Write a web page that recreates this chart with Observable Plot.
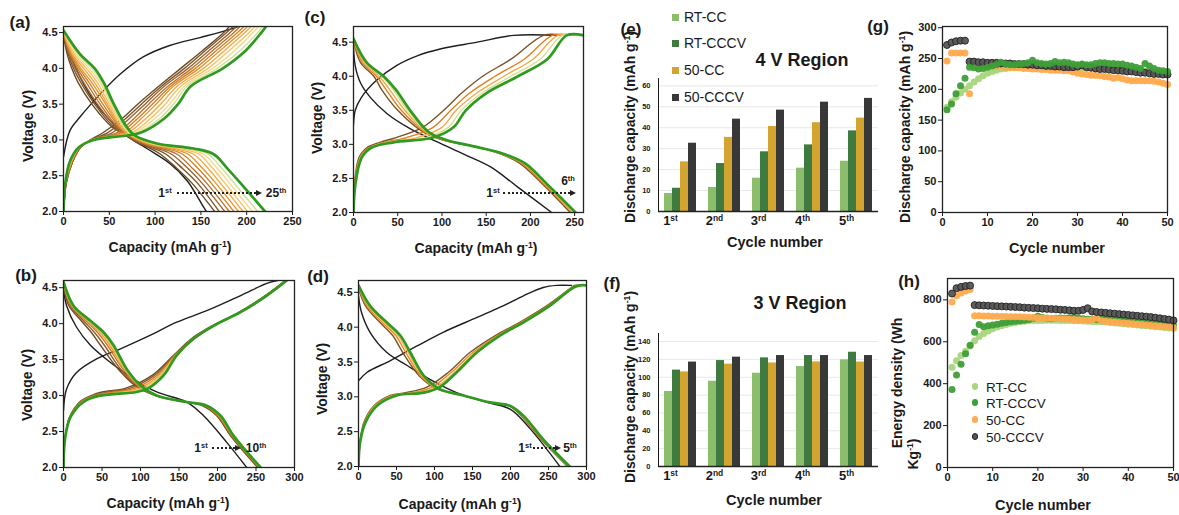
<!DOCTYPE html>
<html><head><meta charset="utf-8">
<script src="https://cdn.jsdelivr.net/npm/d3@7"></script>
<script src="https://cdn.jsdelivr.net/npm/@observablehq/plot@0.6"></script>
<style>
body{margin:0;background:#fff;}
#fig{position:relative;width:1179px;height:515px;overflow:hidden;font-family:"Liberation Sans",Arial,Helvetica,sans-serif;color:#1a1a1a;background:#fff;}
.panel{position:absolute;}
.panel svg{overflow:visible;display:block;}
.lbl{position:absolute;white-space:nowrap;line-height:1;}
.lbl sup{font-size:62%;vertical-align:baseline;position:relative;top:-0.55em;}
#pe [aria-label^="y-axis"] text,#pf [aria-label^="y-axis"] text{font-size:7.5px;}
#pe [aria-label^="fx-axis"] text,#pf [aria-label^="fx-axis"] text{font-size:13px;}
</style></head>
<body><div id="fig"></div>
<script>
const FONT = '"Liberation Sans", Arial, Helvetica, sans-serif';
const BLACK = "#1e1e1e";

// ================= (a) 25 cycles =================
const aColors = ["#6b4a22","#80572a","#9a6430","#b87430","#d2832a","#e6952e","#f2aa48","#f7c263","#f7d88a","#cfe09a","#2f9a1f"];
const aBlackDis = [[0,4.48],[7,4.2],[18,3.88],[33,3.55],[51,3.27],[69,3.06],[91,2.88],[116,2.67],[135,2.43],[153,2.06],[156,2.0]];
const aBlackChg = [[0,2.76],[7,3.13],[18,3.32],[40,3.64],[62,3.92],[87,4.16],[116,4.32],[149,4.43],[178,4.53],[195,4.6]];
const aDisStart = [4.46,4.47,4.48,4.48,4.49,4.5,4.5,4.51,4.52,4.52,4.53];
const aDisV = [4.2,4.0,3.8,3.5,3.18,3.06,2.95,2.88,2.8,2.6,2.4,2.0];
const aDisCap = [
[4,9,16,31,53,68,82,95,106,124,140,165],
[5,11,19,34,55,69,84,99,112,130,146,170],
[6,13,22,37,57,70,86,103,118,136,151,176],
[7,15,25,40,59,71,88,107,124,141,156,181],
[8,17,28,43,61,72,90,112,130,147,161,186],
[9,19,31,46,62,73,92,117,136,152,166,191],
[10,22,34,48,63,74,94,122,142,158,171,196],
[12,25,37,50,65,75,96,127,148,163,176,201],
[14,28,40,52,66,76,98,132,153,168,181,206],
[16,31,42,53,67,77,100,137,158,173,186,212],
[18,34,44,55,69,78,102,142,164,179,193,220]];
const aChgV = [2.0,2.4,2.7,2.9,3.0,3.1,3.3,3.5,3.75,4.0,4.25,4.5,4.6];
const aChgCap = [
[0,3,10,19,29,43,64,81,104,128,152,175,182],
[0,3,10,19,30,48,68,85,107,132,155,178,186],
[0,3,10,19,30,53,72,89,110,136,159,182,190],
[0,3,9,18,31,58,77,93,114,140,163,186,194],
[0,2,9,18,31,62,81,97,117,144,167,190,198],
[0,2,9,18,31,66,85,101,120,148,171,194,202],
[0,2,8,18,32,70,90,106,124,153,176,198,206],
[0,2,8,17,32,74,95,111,128,158,181,203,210],
[0,2,8,17,32,77,100,116,132,163,187,207,214],
[0,2,7,17,33,80,105,120,135,168,193,212,218],
[0,2,7,17,33,84,110,125,139,174,199,216,222]];

// ================= (b) 10 cycles =================
const bColors = ["#6e4d24","#8f5e2a","#d07a22","#ee9a36","#f6c260","#bcd47e","#2f9a1f"];
const bBlackDis = [[0,4.49],[4,4.25],[17,3.95],[35,3.7],[61,3.46],[91,3.23],[121,3.05],[160,2.91],[182,2.72],[212,2.35],[238,2.0]];
const bBlackChg = [[0,2.79],[4,3.09],[17,3.32],[43,3.51],[74,3.65],[113,3.84],[147,4.02],[186,4.18],[230,4.39],[264,4.56],[278,4.6]];
const bDisStart = [4.5,4.52,4.54,4.55,4.56,4.57,4.58];
const bDisV = [4.25,4.04,3.88,3.7,3.37,3.14,3.0,2.91,2.86,2.72,2.44,2.0];
const bDisCap = [
[7,23,36,48,71,93,119,158,180,199,217,252],
[9,26,40,53,74,95,120,159,182,200,218,253],
[10,29,44,57,77,97,120,159,183,201,219,254],
[11,31,47,60,79,98,121,160,184,202,220,255],
[12,33,49,62,80,99,121,160,185,203,220,255],
[12,34,51,64,81,100,121,160,186,204,221,256],
[13,35,52,65,82,100,121,160,186,204,221,256]];
const bChgV = [2.0,2.4,2.7,2.92,3.0,3.05,3.1,3.28,3.56,3.79,3.97,4.16,4.39,4.6];
const bChgCap = [
[0,2,8,22,36,50,80,115,143,166,193,228,262,288],
[0,2,8,23,38,58,86,118,144,167,194,229,263,288],
[0,2,8,24,40,66,92,121,145,168,194,229,263,289],
[0,2,9,25,43,74,98,124,146,168,195,230,264,289],
[0,2,9,26,45,82,103,126,146,169,195,230,264,290],
[0,2,9,26,47,89,107,128,147,169,195,230,264,290],
[0,2,9,27,48,95,110,130,147,169,195,230,264,290]];

// ================= (c) 6 cycles =================
const cColors = ["#7a5426","#e27f1e","#f4a94c","#d6e08c","#2f9a1f"];
const cBlackDis = [[0,4.42],[2,4.15],[8,3.9],[19,3.69],[38,3.45],[64,3.23],[94,3.04],[124,2.86],[155,2.67],[185,2.38],[224,2.0]];
const cBlackChg = [[0,3.28],[2,3.5],[9,3.69],[26,3.94],[49,4.16],[72,4.3],[98,4.4],[140,4.5],[181,4.6],[230,4.6]];
const cDisStart = [4.52,4.53,4.54,4.55,4.55];
const cDisV = [4.2,4.0,3.8,3.5,3.18,3.06,2.96,2.86,2.72,2.4,2.0];
const cDisCap = [
[8,23,32,50,79,102,140,166,188,215,245],
[10,26,37,54,81,103,140,167,190,217,247],
[12,29,41,58,82,104,140,168,192,218,248],
[14,32,45,61,84,105,140,169,193,219,249],
[15,34,48,64,85,106,140,170,194,220,251]];
const cChgV = [2.0,2.4,2.8,2.95,3.03,3.1,3.25,3.5,3.75,4.0,4.25,4.6];
const cChgCap = [
[0,1,6,15,30,48,78,102,122,146,178,215],
[0,1,7,17,35,60,90,110,131,160,193,225],
[0,2,8,18,38,72,100,116,139,170,203,231],
[0,2,8,19,42,82,107,122,145,178,211,236],
[0,2,9,20,45,90,113,127,150,186,219,241]];
const cChgEnd = [236,245,250,255,260];

// ================= (d) 5 cycles =================
const dColors = ["#7a5426","#e88a22","#f6b556","#2f9a1f"];
const dBlackDis = [[0,4.45],[4,4.21],[15,3.93],[37,3.64],[64,3.45],[94,3.25],[129,3.06],[169,2.92],[200,2.82],[226,2.54],[265,2.0]];
const dBlackChg = [[0,3.23],[11,3.35],[42,3.52],[77,3.73],[112,3.93],[156,4.14],[191,4.31],[217,4.45],[243,4.57],[261,4.6],[280,4.6]];
const dDisStart = [4.55,4.57,4.58,4.6];
const dDisV = [4.31,4.07,3.88,3.64,3.3,3.11,3.02,2.92,2.87,2.73,2.39,2.0];
const dDisCap = [
[9,28,45,58,80,104,137,172,198,214,240,275],
[11,31,49,62,82,105,137,172,199,215,241,276],
[13,34,52,65,84,106,138,173,200,216,242,277],
[15,37,55,68,86,107,138,173,200,217,243,278]];
const dChgV = [2.0,2.34,2.63,2.87,3.02,3.06,3.14,3.35,3.64,3.88,4.07,4.31,4.57,4.6];
const dChgCap = [
[0,2,7,20,42,62,90,118,147,180,212,248,280,284],
[0,2,8,21,45,72,97,122,151,183,214,250,281,287],
[0,2,8,22,48,80,102,126,154,185,216,251,282,290],
[0,2,9,24,50,86,107,129,156,186,217,252,283,292]];
const dChgEnd = [290,294,297,300];

// ================= (e), (f) bars =================
const cycleLabels = ["1st","2nd","3rd","4th","5th"];
const seriesNames = ["RT-CC","RT-CCCV","50-CC","50-CCCV"];
const barColors = ["#8cbd6c","#3e7b41","#d4a431","#383838"];
const e4V_RTCC   = [8.6, 11.5, 15.9, 20.7, 24.0];
const e4V_RTCCCV = [11.1, 22.9, 28.5, 31.8, 38.5];
const e4V_50CC   = [23.7, 35.4, 40.6, 42.4, 44.6];
const e4V_50CCCV = [32.6, 44.1, 48.4, 52.2, 54.0];
const f3V_RTCC   = [84, 95.5, 104.5, 112, 119.5];
const f3V_RTCCCV = [108, 118.7, 121.7, 124.3, 128];
const f3V_50CC   = [106, 114.6, 116, 117.2, 117];
const f3V_50CCCV = [117, 122.5, 124.3, 124.3, 124.3];

// ================= (g) discharge capacity vs cycle =================
const dotColors = {"RT-CC":"#a9d57c","RT-CCCV":"#3e9e37","50-CC":"#ffaa4e","50-CCCV":"#555555"};
const gRTCC = [171,180,187,194,200, 206,212,217,222,226, 229,231,233,234,235, 236,236,237,237,237, 237,237,236,236,236, 236,236,236,235,235, 235,235,235,235,234, 234,234,234,233,233, 232,232,231,231,230, 230,229,229,228,227];
const gRTCCCV = [167,176,193,206,218, 236,235,233,234,236, 238,240,244,241,240, 240,241,242,243,247, 243,242,241,242,245, 243,244,243,241,240, 241,240,240,242,243, 243,242,242,241,241, 239,238,236,234,242, 238,234,231,230,229];
const g50CC = [246,259,259,259,259, 193,240,239,239,238, 238,237,237,236,236, 235,235,234,234,233, 233,232,232,231,231, 231,230,230,228,226, 225,224,223,223,222, 221,220,218,219,217, 215,214,214,214,214, 214,213,212,210,208];
const g50CCCV = [272,276,278,279,279, 245,245,244,244,243, 243,243,242,242,242, 241,241,241,240,240, 239,239,238,238,237, 237,236,236,236,237, 239,236,235,234,233, 233,232,231,231,230, 229,229,228,227,227, 226,225,225,224,224];

// ================= (h) energy density vs cycle =================
const hRTCC = [478,510,535,555,580, 605,625,640,652,662, 670,677,683,688,692, 695,698,700,701,702, 702,703,703,703,702, 702,701,700,700,699, 698,697,696,695,694, 692,690,688,686,684, 682,680,678,676,674, 672,670,668,666,664];
const hRTCCCV = [372,442,493,543,583, 645,683,672,676,680, 684,688,692,695,698, 700,703,706,712,722, 716,712,710,712,714, 712,715,718,712,710, 708,707,706,708,710, 708,706,704,702,700, 698,696,694,692,690, 688,686,684,681,678];
const h50CC = [790,820,833,842,850, 724,724,723,723,722, 722,721,721,720,720, 719,718,717,716,715, 714,713,712,711,710, 709,708,706,705,704, 703,705,712,700,698, 696,694,692,690,688, 686,684,682,680,678, 676,674,672,670,667];
const h50CCCV = [830,856,862,866,868, 775,774,773,772,771, 770,769,768,767,766, 765,763,762,761,760, 758,757,756,755,753, 752,750,748,748,752, 760,745,742,740,738, 736,734,732,730,728, 726,724,722,720,718, 715,712,709,706,702];

// ================= helpers =================
const fig = document.getElementById("fig");
function place(node, id, left, top, w, h) {
  const d = document.createElement("div");
  d.className = "panel"; d.id = id;
  Object.assign(d.style, {left: left + "px", top: top + "px", width: w + "px", height: h + "px"});
  d.appendChild(node); fig.appendChild(d);
  return node;
}
function txt(html, x, y, o = {}) {
  const d = document.createElement("div");
  d.className = "lbl"; d.innerHTML = html;
  d.style.left = x + "px"; d.style.top = y + "px";
  d.style.fontSize = (o.size || 14) + "px";
  d.style.fontWeight = o.weight || "bold";
  let tr = o.anchor === "start" ? "translate(0,-50%)" : "translate(-50%,-50%)";
  if (o.rot) tr += " rotate(-90deg)";
  d.style.transform = tr;
  fig.appendChild(d);
}
function arrow(x1, x2, y) {
  const l = document.createElement("div");
  Object.assign(l.style, {position: "absolute", left: x1 + "px", top: (y - 1) + "px", width: (x2 - x1) + "px", height: "0", borderTop: "2px dotted #222"});
  fig.appendChild(l);
  const t = document.createElement("div");
  Object.assign(t.style, {position: "absolute", left: x2 + "px", top: (y - 3.5) + "px", width: "0", height: "0",
    borderLeft: "6px solid #222", borderTop: "3.5px solid transparent", borderBottom: "3.5px solid transparent"});
  fig.appendChild(t);
}
function buildCurves(blackDis, blackChg, colors, disStart, disV, disCap, chgV, chgCap, chgEnd) {
  const rows = [];
  const push = (key, pts, color, last) => pts.forEach(([c, v]) => rows.push({key, cap: c, v, color, last}));
  push("k-chg", blackChg, BLACK, false);
  push("k-dis", blackDis, BLACK, false);
  const n = colors.length;
  for (let i = 0; i < n; i++) {
    const last = i === n - 1;
    const cpts = chgCap[i].map((c, j) => [c, chgV[j]]);
    if (chgEnd) cpts.push([chgEnd[i], chgV[chgV.length - 1]]);
    const dpts = [[0, disStart[i]], ...disCap[i].map((c, j) => [c, disV[j]])];
    push(i + "-chg", cpts, colors[i], last);
    push(i + "-dis", dpts, colors[i], last);
  }
  return rows;
}
const baseStyle = {fontFamily: FONT, fontSize: "11px", fontWeight: "bold", color: "#1a1a1a", background: "transparent", overflow: "visible"};

function linePanel(rows, o) {
  return Plot.plot({
    width: o.w, height: o.h, marginLeft: o.ml, marginRight: o.mr, marginTop: o.mt, marginBottom: o.mb,
    style: baseStyle,
    x: {domain: o.xdom, ticks: o.xticks, label: null, tickSize: 4, tickPadding: 2},
    y: {domain: o.ydom, ticks: [2.0, 2.5, 3.0, 3.5, 4.0, 4.5], tickFormat: d3.format(".1f"), label: null, tickSize: 4, tickPadding: 2},
    marks: [
      Plot.line(rows.filter(d => !d.last), {x: "cap", y: "v", z: "key", stroke: d => d.color, strokeWidth: 1.4, curve: "catmull-rom", clip: true}),
      Plot.line(rows.filter(d => d.last), {x: "cap", y: "v", z: "key", stroke: d => d.color, strokeWidth: 2.7, curve: "catmull-rom", clip: true}),
      Plot.frame({stroke: "#222", strokeWidth: 1.3})
    ]
  });
}
function supTicks(svg) {
  d3.select(svg).selectAll("text").each(function () {
    const m = /^(\d+)(st|nd|rd|th)$/.exec(this.textContent.trim());
    if (!m) return;
    const s = d3.select(this);
    s.text(null);
    s.append("tspan").text(m[1]);
    s.append("tspan").attr("font-size", "65%").attr("dy", "-0.5em").text(m[2]);
    s.attr("dx", -10);
  });
}
function barRows(a, b, c, d) {
  const vals = [a, b, c, d];
  const rows = [];
  cycleLabels.forEach((cy, i) => seriesNames.forEach((s, j) => rows.push({cycle: cy, series: s, value: vals[j][i]})));
  return rows;
}
function barPanel(rows, o) {
  const svg = Plot.plot({
    width: o.w, height: o.h, marginLeft: o.ml, marginRight: o.mr, marginTop: o.mt, marginBottom: o.mb,
    style: Object.assign({}, baseStyle, {fontSize: "13px"}),
    facet: {data: rows, x: "cycle"},
    fx: {domain: cycleLabels, padding: 0, label: null, tickSize: 0, tickPadding: 4, axis: "bottom"},
    x: {domain: seriesNames, axis: null, paddingInner: 0.06, paddingOuter: 0.7},
    y: {domain: o.ydom, ticks: o.yticks, grid: true, tickSize: 0, tickPadding: 8, label: null, line: true},
    color: {domain: seriesNames, range: barColors},
    marks: [
      Plot.barY(rows, {x: "series", y: "value", fill: "series"}),
      Plot.ruleY([0], {stroke: "#222", strokeWidth: 1.6})
    ]
  });
  supTicks(svg);
  return svg;
}
function dotRows(arrs) {
  const rows = [];
  seriesNames.forEach((s, j) => arrs[j].forEach((v, i) => rows.push({series: s, cycle: i + 1, value: v})));
  return rows;
}
function dotPanel(rows, order, o) {
  return Plot.plot({
    width: o.w, height: o.h, marginLeft: o.ml, marginRight: o.mr, marginTop: o.mt, marginBottom: o.mb,
    style: baseStyle,
    x: {domain: [0, 50], ticks: [0, 10, 20, 30, 40, 50], label: null, tickSize: 4, tickPadding: 2},
    y: {domain: o.ydom, ticks: o.yticks, label: null, tickSize: 4, tickPadding: 2},
    marks: [
      ...order.map(s => Plot.dot(rows.filter(d => d.series === s), {x: "cycle", y: "value", r: 3.5,
        fill: dotColors[s], fillOpacity: 0.95,
        stroke: s === "50-CCCV" ? "#222" : "none", strokeWidth: 0.9})),
      Plot.frame({stroke: "#222", strokeWidth: 1.3})
    ]
  });
}

// ================= render panels =================
place(linePanel(buildCurves(aBlackDis, aBlackChg, aColors, aDisStart, aDisV, aDisCap, aChgV, aChgCap, null),
  {w: 300, h: 255, ml: 63, mr: 8, mt: 26, mb: 44, xdom: [0, 250], xticks: [0, 50, 100, 150, 200, 250], ydom: [2, 4.585]}), "pa", 0, 0, 300, 255);
place(linePanel(buildCurves(bBlackDis, bBlackChg, bColors, bDisStart, bDisV, bDisCap, bChgV, bChgCap, null),
  {w: 300, h: 260, ml: 63, mr: 6, mt: 25, mb: 48, xdom: [0, 300], xticks: [0, 50, 100, 150, 200, 250, 300], ydom: [2, 4.6]}), "pb", 0, 255, 300, 260);
place(linePanel(buildCurves(cBlackDis, cBlackChg, cColors, cDisStart, cDisV, cDisCap, cChgV, cChgCap, cChgEnd),
  {w: 300, h: 255, ml: 63, mr: 7, mt: 26, mb: 43, xdom: [0, 260], xticks: [0, 50, 100, 150, 200, 250], ydom: [2, 4.73]}), "pc", 290, 0, 300, 255);
place(linePanel(buildCurves(dBlackDis, dBlackChg, dColors, dDisStart, dDisV, dDisCap, dChgV, dChgCap, dChgEnd),
  {w: 300, h: 260, ml: 68, mr: 4, mt: 25, mb: 49, xdom: [0, 300], xticks: [0, 50, 100, 150, 200, 250, 300], ydom: [2, 4.67]}), "pd", 290, 255, 300, 260);

place(barPanel(barRows(e4V_RTCC, e4V_RTCCCV, e4V_50CC, e4V_50CCCV),
  {w: 290, h: 255, ml: 68, mr: 2, mt: 78, mb: 44, ydom: [0, 63.5], yticks: [0, 10, 20, 30, 40, 50, 60]}), "pe", 590, 0, 290, 255);
place(barPanel(barRows(f3V_RTCC, f3V_RTCCCV, f3V_50CC, f3V_50CCCV),
  {w: 290, h: 260, ml: 68, mr: 2, mt: 78, mb: 49, ydom: [0, 149], yticks: [0, 20, 40, 60, 80, 100, 120, 140]}), "pf", 590, 255, 290, 260);

place(dotPanel(dotRows([gRTCC, gRTCCCV, g50CC, g50CCCV]), ["RT-CC", "50-CC", "50-CCCV", "RT-CCCV"],
  {w: 299, h: 255, ml: 62, mr: 12, mt: 26, mb: 43, ydom: [0, 302], yticks: [0, 50, 100, 150, 200, 250, 300]}), "pg", 880, 0, 299, 255);
place(dotPanel(dotRows([hRTCC, hRTCCCV, h50CC, h50CCCV]), ["RT-CC", "RT-CCCV", "50-CC", "50-CCCV"],
  {w: 299, h: 260, ml: 67, mr: 6, mt: 23, mb: 48, ydom: [0, 902], yticks: [0, 200, 400, 600, 800]}), "ph", 880, 255, 299, 260);

// ================= texts =================
const cap = "Capacity (mAh g<sup>-1</sup>)";
const dcap = "Discharge capacity (mAh g<sup>-1</sup>)";
// panel letters
txt("(a)", 20, 22, {size: 17}); txt("(b)", 26, 275, {size: 17});
txt("(c)", 315, 17, {size: 17}); txt("(d)", 318, 276, {size: 17});
txt("(e)", 631, 29, {size: 17}); txt("(f)", 612, 283, {size: 17});
txt("(g)", 878, 26, {size: 17}); txt("(h)", 909, 281, {size: 17});
// axis titles
txt("Voltage (V)", 28, 126, {rot: true}); txt(cap, 170, 247);
txt("Voltage (V)", 27, 385, {rot: true}); txt(cap, 168, 503);
txt("Voltage (V)", 317, 118, {rot: true}); txt(cap, 476, 248);
txt("Voltage (V)", 322, 379, {rot: true}); txt(cap, 460, 504);
txt(dcap, 630, 127, {rot: true}); txt("Cycle number", 775, 242, {size: 14.5});
txt(dcap, 630, 387, {rot: true}); txt("Cycle number", 774, 500, {size: 14.5});
txt(dcap, 905, 127, {rot: true}); txt("Cycle number", 1057, 248, {size: 14.5});
txt("Energy density (Wh", 897, 383, {rot: true}); txt("Kg<sup>-1</sup>)", 913, 454, {rot: true});
txt("Cycle number", 1043, 505, {size: 14.5});
// region titles
txt("4 V Region", 802, 60, {size: 18}); txt("3 V Region", 800, 303, {size: 18});
// legend (e)
seriesNames.forEach((s, i) => {
  const y = [17, 43, 70, 97][i];
  const sq = document.createElement("div");
  Object.assign(sq.style, {position: "absolute", left: "672px", top: (y - 3.5) + "px", width: "7px", height: "7px", background: barColors[i]});
  fig.appendChild(sq);
  txt(s, 684, y, {size: 14, weight: "normal", anchor: "start"});
});
// legend (h)
seriesNames.forEach((s, i) => {
  const y = [388, 404, 421, 438][i];
  const dt = document.createElement("div");
  Object.assign(dt.style, {position: "absolute", left: (975 - 3.4) + "px", top: (y - 1.5 - 3.4) + "px", width: "6.8px", height: "6.8px", borderRadius: "50%",
    background: dotColors[s], boxSizing: "border-box", border: s === "50-CCCV" ? "0.9px solid #222" : "none"});
  fig.appendChild(dt);
  txt(s, 986, y, {size: 13.5, weight: "normal", anchor: "start"});
});
// cycle annotations
txt("1<sup>st</sup>", 165, 193, {size: 12}); arrow(177, 256, 193); txt("25<sup>th</sup>", 276, 193, {size: 12});
txt("1<sup>st</sup>", 493, 193, {size: 12}); arrow(503, 570, 193); txt("6<sup>th</sup>", 568, 181, {size: 12});
txt("1<sup>st</sup>", 201, 448, {size: 12}); arrow(212, 235, 448); txt("10<sup>th</sup>", 256, 448, {size: 12});
txt("1<sup>st</sup>", 525, 448, {size: 12}); arrow(533, 555, 448); txt("5<sup>th</sup>", 570, 448, {size: 12});
</script></body></html>
